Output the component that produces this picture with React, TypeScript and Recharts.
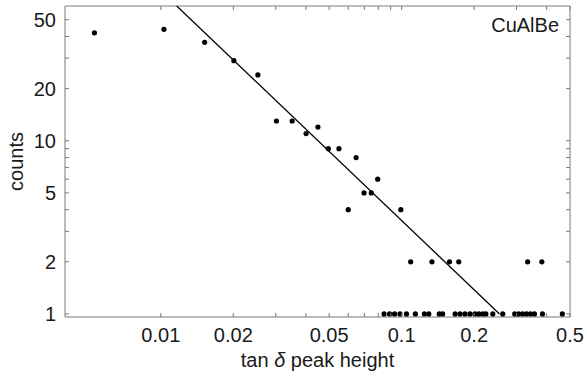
import React from "react";
import { ComposedChart, Scatter, XAxis, YAxis, Label } from "recharts";

// points above the count=2 level: tan delta peak height and counts
const upperHeights = [
  0.0053, 0.0103, 0.0152, 0.0201, 0.0253, 0.0302, 0.0351, 0.0401, 0.0449,
  0.0496, 0.0549, 0.0647, 0.06, 0.0698, 0.0748, 0.0795, 0.0992,
];
const upperCounts = [42, 44, 37, 29, 24, 13, 13, 11, 12, 9, 9, 8, 4, 5, 5, 6, 4];

// bins with two counts
const twoCountHeights = [0.109, 0.1336, 0.158, 0.1726, 0.3335, 0.382];

// bins with a single count
const oneCountHeights = [
  0.0845, 0.0891, 0.0934, 0.0984, 0.1047, 0.114, 0.1242, 0.1296, 0.1432,
  0.148, 0.1667, 0.1748, 0.1833, 0.1922, 0.2016, 0.2093, 0.2175, 0.2238,
  0.239, 0.2629, 0.2947, 0.306, 0.318, 0.33, 0.343, 0.356, 0.3843, 0.4647,
];

// power-law fit, end points
const fitHeights = [0.01164, 0.2548];
const fitCounts = [60, 1];

const xMajorTicks = [0.01, 0.02, 0.05, 0.1, 0.2, 0.5];
const xMinorTicks = [0.03, 0.04, 0.06, 0.07, 0.08, 0.09, 0.3, 0.4];
const yMajorTicks = [1, 2, 5, 10, 20, 50];
const yMinorTicks = [3, 4, 6, 7, 8, 9, 30, 40];

const xTicks = [...xMajorTicks, ...xMinorTicks].sort((a, b) => a - b);
const yTicks = [...yMajorTicks, ...yMinorTicks].sort((a, b) => a - b);

const points = [
  ...upperHeights.map((x, i) => ({ x, y: upperCounts[i] })),
  ...twoCountHeights.map((x) => ({ x, y: 2 })),
  ...oneCountHeights.map((x) => ({ x, y: 1 })),
];
const fitLine = fitHeights.map((x, i) => ({ x, y: fitCounts[i] }));

const FONT = "'Liberation Sans', Arial, sans-serif";
const AXIS = "#7a7a7a";
const TEXT = "#1a1a1a";
const TICK = 4;
const FS = 20;

const BottomTick = (props: any) => {
  const { x, y, payload } = props;
  const major = xMajorTicks.includes(payload.value);
  return (
    <g>
      <line x1={x} x2={x} y1={y} y2={y - TICK} stroke={AXIS} />
      {major && (
        <text x={x} y={y + 25} textAnchor="middle" fontSize={FS} fill={TEXT} fontFamily={FONT}>
          {String(payload.value)}
        </text>
      )}
    </g>
  );
};

const TopTick = (props: any) => {
  const { x, y } = props;
  return <line x1={x} x2={x} y1={y} y2={y + TICK} stroke={AXIS} />;
};

const LeftTick = (props: any) => {
  const { x, y, payload } = props;
  const major = yMajorTicks.includes(payload.value);
  return (
    <g>
      <line x1={x} x2={x + TICK} y1={y} y2={y} stroke={AXIS} />
      {major && (
        <text x={x - 9} y={y + 7} textAnchor="end" fontSize={FS} fill={TEXT} fontFamily={FONT}>
          {String(payload.value)}
        </text>
      )}
    </g>
  );
};

const RightTick = (props: any) => {
  const { x, y } = props;
  return <line x1={x} x2={x - TICK} y1={y} y2={y} stroke={AXIS} />;
};

const Dot = (props: any) => <circle cx={props.cx} cy={props.cy} r={2.6} fill="#000" />;
const NoDot = () => <g />;

export default function App() {
  return (
    <div style={{ position: "absolute", left: 0, top: 0, background: "#fff" }}>
      <ComposedChart
        width={587}
        height={378}
        margin={{ top: 5, right: 16, bottom: 11, left: 5 }}
      >
        <XAxis
          xAxisId="bottom"
          dataKey="x"
          type="number"
          scale="log"
          domain={[0.004, 0.5]}
          allowDataOverflow
          ticks={xTicks}
          interval={0}
          tick={<BottomTick />}
          tickLine={false}
          tickSize={0}
          tickMargin={0}
          height={50}
          axisLine={{ stroke: AXIS }}
        >
          <Label
            content={(p: any) => {
              const vb = p.viewBox;
              return (
                <text
                  x={vb.x + vb.width / 2}
                  y={vb.y + 50}
                  textAnchor="middle"
                  fontSize={FS}
                  fill={TEXT}
                  fontFamily={FONT}
                >
                  tan <tspan fontStyle="italic">δ</tspan> peak height
                </text>
              );
            }}
          />
        </XAxis>
        <XAxis
          xAxisId="top"
          orientation="top"
          dataKey="x"
          type="number"
          scale="log"
          domain={[0.004, 0.5]}
          allowDataOverflow
          ticks={xTicks}
          interval={0}
          tick={<TopTick />}
          tickLine={false}
          tickSize={0}
          tickMargin={0}
          height={1}
          axisLine={{ stroke: AXIS }}
        >
          <Label
            content={(p: any) => {
              const vb = p.viewBox;
              return (
                <text
                  x={vb.x + vb.width - 11}
                  y={vb.y + 27}
                  textAnchor="end"
                  fontSize={FS}
                  fill={TEXT}
                  fontFamily={FONT}
                >
                  CuAlBe
                </text>
              );
            }}
          />
        </XAxis>
        <YAxis
          yAxisId="left"
          dataKey="y"
          type="number"
          scale="log"
          domain={[0.96, 60]}
          allowDataOverflow
          ticks={yTicks}
          interval={0}
          tick={<LeftTick />}
          tickLine={false}
          tickSize={0}
          tickMargin={0}
          width={60}
          axisLine={{ stroke: AXIS }}
        >
          <Label
            content={(p: any) => {
              const vb = p.viewBox;
              const cx = vb.x + 11;
              const cy = vb.y + vb.height / 2;
              return (
                <text
                  x={cx}
                  y={cy}
                  transform={`rotate(-90, ${cx}, ${cy})`}
                  textAnchor="middle"
                  dominantBaseline="central"
                  fontSize={FS}
                  fill={TEXT}
                  fontFamily={FONT}
                >
                  counts
                </text>
              );
            }}
          />
        </YAxis>
        <YAxis
          yAxisId="right"
          orientation="right"
          dataKey="y"
          type="number"
          scale="log"
          domain={[0.96, 60]}
          allowDataOverflow
          ticks={yTicks}
          interval={0}
          tick={<RightTick />}
          tickLine={false}
          tickSize={0}
          tickMargin={0}
          width={1}
          axisLine={{ stroke: AXIS }}
        />
        <Scatter
          xAxisId="bottom"
          yAxisId="left"
          data={fitLine}
          line={{ stroke: "#000", strokeWidth: 1.3 }}
          shape={<NoDot />}
          isAnimationActive={false}
        />
        <Scatter
          xAxisId="bottom"
          yAxisId="left"
          data={points}
          shape={<Dot />}
          isAnimationActive={false}
        />
        <Scatter
          xAxisId="top"
          yAxisId="right"
          data={points}
          shape={<NoDot />}
          isAnimationActive={false}
        />
      </ComposedChart>
    </div>
  );
}
